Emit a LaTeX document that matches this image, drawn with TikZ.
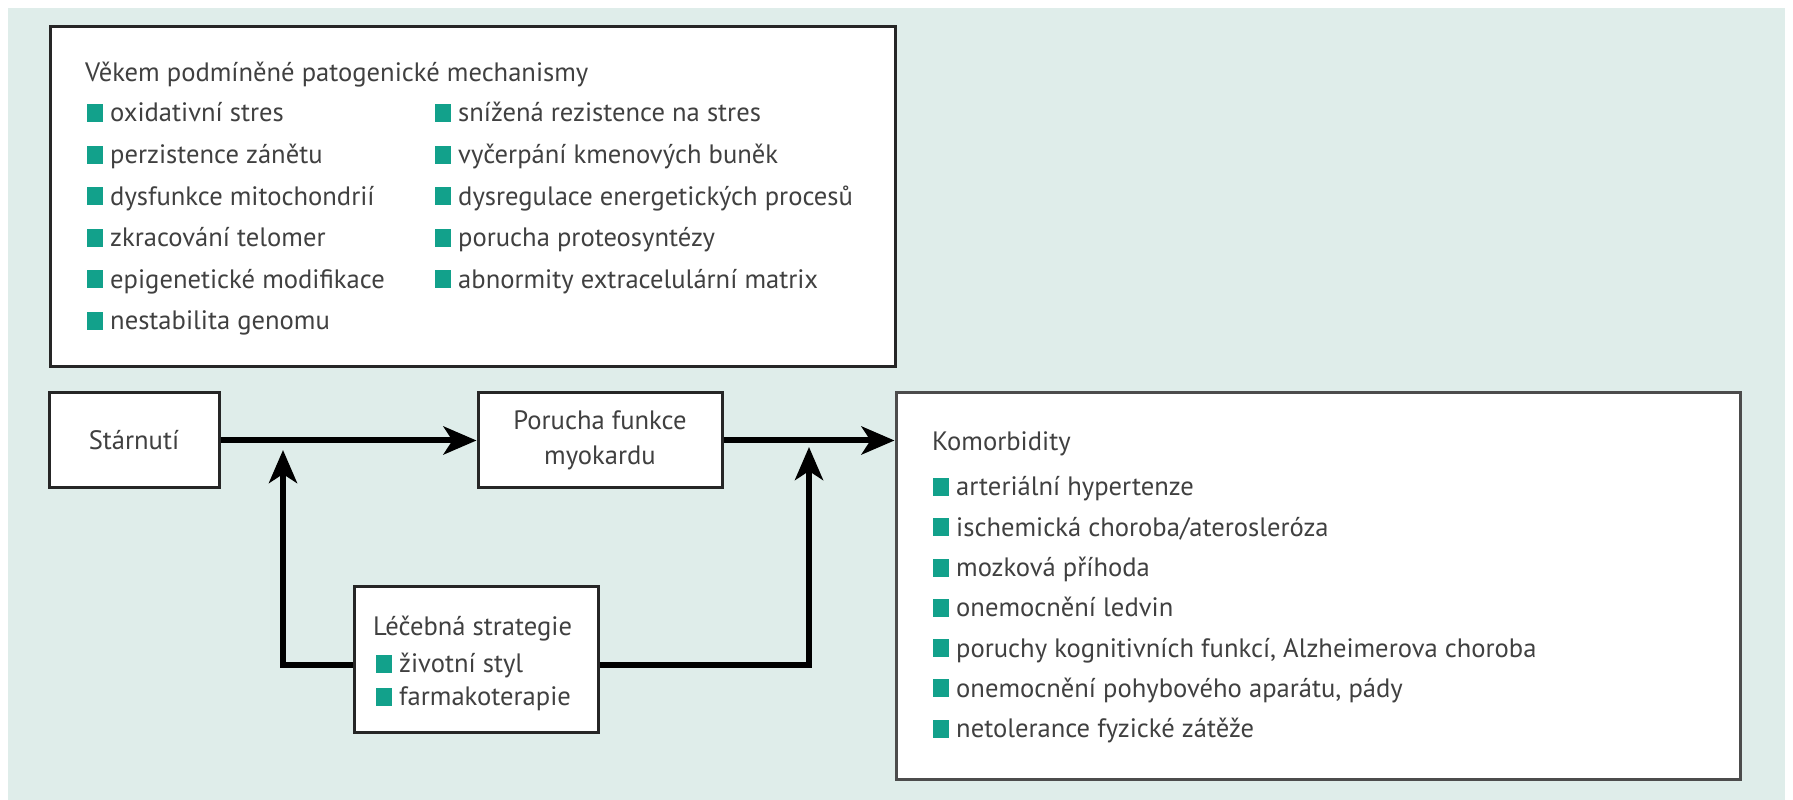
\documentclass[tikz,border=0pt]{standalone}
\usepackage{fontspec}
\setmainfont{PT Sans}
\usetikzlibrary{arrows.meta}
\definecolor{bgmint}{HTML}{DFEDEA}
\definecolor{bulletteal}{HTML}{12A18B}
\definecolor{textgrey}{HTML}{404040}
\newcommand{\bul}{\textcolor{bulletteal}{\rule{16bp}{18bp}}\hspace{7bp}}
\tikzset{
  box/.style={draw=black!85, line width=3bp, fill=white, inner sep=0pt},
  txt/.style={font=\fontsize{26.6bp}{35bp}\selectfont, text=textgrey, inner sep=0pt},
  flow/.style={line width=6bp, -{Stealth[length=33bp,width=28bp,inset=9bp]}},
}
\begin{document}
\begin{tikzpicture}[line join=miter]
\useasboundingbox (0,0) rectangle (1793bp,800bp);
\fill[bgmint] (8bp,0bp) rectangle (1785bp,792bp);
%%
\node (mech) at (472.5bp,603bp) [box, minimum width=845bp, minimum height=340bp] {};
  \node (start) at (134bp,359.5bp) [box, txt, minimum width=170bp, minimum height=95bp] {Stárnutí};
  \node (poruch) at (600bp,359.5bp) [box, txt, align=center, minimum width=244bp, minimum height=95bp] {Porucha funkce\\myokardu};
  \node (komorb) at (1318bp,213.5bp) [box, draw=black!70, minimum width=844bp, minimum height=387bp] {};
  \node (lecba) at (476bp,140bp) [box, minimum width=244bp, minimum height=146bp] {};
%
\node (mechtitle) at (85bp,718bp) [txt, anchor=base west] {Věkem podmíněné patogenické mechanismy};
  \foreach \t [count=\i] in {oxidativní stres, perzistence zánětu, dysfunkce mitochondrií, zkracování telomer, epigenetické modifikace, nestabilita genomu}
    \node (mechA\i) at (87bp,{678bp-(\i-1)*41.6bp}) [txt, anchor=base west] {\bul\t};
  \foreach \t [count=\i] in {snížená rezistence na stres, vyčerpání kmenových buněk, dysregulace energetických procesů, porucha proteosyntézy, abnormity extracelulární matrix}
    \node (mechB\i) at (435bp,{678bp-(\i-1)*41.6bp}) [txt, anchor=base west] {\bul\t};
%
\node (komtitle) at (932bp,349bp) [txt, anchor=base west] {Komorbidity};
  \foreach \t [count=\i] in {arteriální hypertenze, ischemická choroba/aterosleróza, mozková příhoda, onemocnění ledvin, {poruchy kognitivních funkcí, Alzheimerova choroba}, {onemocnění pohybového aparátu, pády}, netolerance fyzické zátěže}
    \node (kom\i) at (933bp,{304bp-(\i-1)*40.3bp}) [txt, anchor=base west] {\bul\t};
%
\node (lectitle) at (373bp,164bp) [txt, anchor=base west] {Léčebná strategie};
  \node (lec1) at (376bp,127bp) [txt, anchor=base west] {\bul životní styl};
  \node (lec2) at (376bp,94bp) [txt, anchor=base west] {\bul farmakoterapie};
%
\coordinate (tipL) at (283bp,350bp);
  \coordinate (tipR) at (809bp,353bp);
  \draw [flow] (start) -- (poruch);
  \draw [flow] (poruch.east) -- (poruch.east -| komorb.west);
  \draw [flow] ([yshift=-5bp]lecba.west) -| (tipL);
  \draw [flow] ([yshift=-5bp]lecba.east) -| (tipR);
%
\end{tikzpicture}
\end{document}
